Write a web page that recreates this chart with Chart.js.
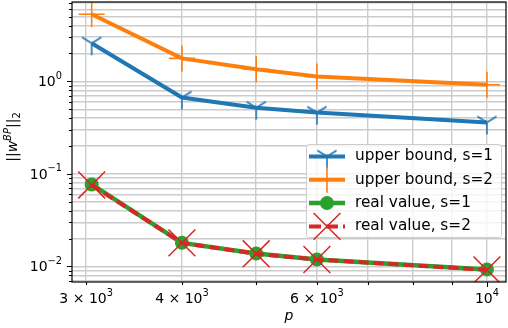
<!DOCTYPE html>
<html>
<head>
<meta charset="utf-8">
<script src="https://cdn.jsdelivr.net/npm/chart.js@4.4.1/dist/chart.umd.min.js"></script>
<style>
  html, body { margin: 0; padding: 0; background: #fff; }
  #wrap { width: 508px; height: 328px; }
</style>
</head>
<body>
<div id="wrap"><canvas id="chart"></canvas></div>
<script>
// Values
const pValues = [3050, 4000, 5000, 6000, 10000];
const upperS1 = [2.58, 0.67, 0.52, 0.46, 0.36];
const upperS2 = [5.3, 1.77, 1.35, 1.13, 0.92];
const realS1 = [0.077, 0.018, 0.0138, 0.0119, 0.0093];
const realS2 = [0.076, 0.018, 0.0137, 0.0119, 0.0092];

// Tick positions and labels ('^' starts the exponent)
const xTickValues = [3000, 4000, 5000, 6000, 7000, 8000, 9000, 10000];
const xTickLabels = { 3000: '3 × 10^3', 4000: '4 × 10^3', 6000: '6 × 10^3', 10000: '10^4' };
const yTickValues = [0.007, 0.008, 0.009, 0.01, 0.02, 0.03, 0.04, 0.05, 0.06, 0.07, 0.08, 0.09,
                     0.1, 0.2, 0.3, 0.4, 0.5, 0.6, 0.7, 0.8, 0.9, 1, 2, 3, 4, 5, 6, 7];
const yTickLabels = { 0.01: '10^−2', 0.1: '10^−1', 1: '10^0' };

const FONT = "'DejaVu Sans', sans-serif";
const BLUE = '#1f77b4', ORANGE = '#ff7f0e', GREEN = '#2ca02c', RED = '#d62728';

// tri_down marker (matplotlib '1') as an image point style
const triDown = (() => {
    const c = document.createElement('canvas');
    c.width = 28; c.height = 28;
    const g = c.getContext('2d');
    const cx = 14, cy = 14, s = 12;
    g.strokeStyle = BLUE;
    g.lineWidth = 1.6;
    g.beginPath();
    g.moveTo(cx, cy); g.lineTo(cx, cy + s);
    g.moveTo(cx, cy); g.lineTo(cx - 0.8 * s, cy - 0.5 * s);
    g.moveTo(cx, cy); g.lineTo(cx + 0.8 * s, cy - 0.5 * s);
    g.stroke();
    return c;
})();

const toPoints = ys => pValues.map((p, i) => ({ x: p, y: ys[i] }));
const isDecade = v => Math.abs(Math.log10(v) - Math.round(Math.log10(v))) < 1e-9;

// draw "base^exp" with a raised, smaller exponent; align = 'right' | 'center'
function drawPowerLabel(ctx, label, x, y, align) {
    const [base, exp] = label.split('^');
    ctx.font = '14px ' + FONT;
    const wb = ctx.measureText(base).width;
    ctx.font = '9.8px ' + FONT;
    const we = ctx.measureText(exp).width;
    const w = wb + we;
    let x0 = align === 'right' ? x - w : x - w / 2;
    ctx.textAlign = 'left';
    ctx.textBaseline = 'alphabetic';
    ctx.font = '14px ' + FONT;
    ctx.fillText(base, x0, y);
    ctx.font = '9.8px ' + FONT;
    ctx.fillText(exp, x0 + wb, y - 7.5);
}

// frame, tick marks, tick labels, axis titles and legend, matplotlib style
const decorations = {
    id: 'decorations',
    afterDraw(chart) {
        const ctx = chart.ctx;
        const a = chart.chartArea;
        const xs = chart.scales.x, ys = chart.scales.y;
        ctx.save();

        // tick marks
        ctx.strokeStyle = '#000';
        ctx.lineWidth = 1.1;
        ctx.beginPath();
        yTickValues.forEach(v => {
            const py = Math.round(ys.getPixelForValue(v)) + 0.5;
            const len = isDecade(v) ? 5 : 3;
            ctx.moveTo(a.left - len, py); ctx.lineTo(a.left, py);
        });
        xTickValues.forEach(v => {
            const px = Math.round(xs.getPixelForValue(v)) + 0.5;
            const len = isDecade(v) ? 5 : 3;
            ctx.moveTo(px, a.bottom); ctx.lineTo(px, a.bottom + len);
        });
        ctx.stroke();

        // spines
        ctx.lineWidth = 1.2;
        ctx.strokeRect(a.left, a.top, a.right - a.left, a.bottom - a.top);

        // tick labels
        ctx.fillStyle = '#000';
        yTickValues.forEach(v => {
            if (yTickLabels[v]) drawPowerLabel(ctx, yTickLabels[v], a.left - 10, ys.getPixelForValue(v) + 5, 'right');
        });
        xTickValues.forEach(v => {
            if (xTickLabels[v]) drawPowerLabel(ctx, xTickLabels[v], xs.getPixelForValue(v), a.bottom + 21, 'center');
        });

        // x title
        ctx.font = 'italic 14px ' + FONT;
        ctx.textAlign = 'center';
        ctx.textBaseline = 'alphabetic';
        ctx.fillText('p', (a.left + a.right) / 2, 320);

        // y title ||w^BP||_2
        ctx.translate(17, 137);
        ctx.rotate(-Math.PI / 2);
        ctx.textAlign = 'left';
        const parts = [
            { t: '||', f: '14px ' + FONT, dy: 0 },
            { t: 'w', f: 'italic 14px ' + FONT, dy: 0 },
            { t: 'BP', f: 'italic 10px ' + FONT, dy: -6 },
            { t: '||', f: '14px ' + FONT, dy: 0 },
            { t: '2', f: '10px ' + FONT, dy: 3 }
        ];
        let total = 0;
        parts.forEach(p => { ctx.font = p.f; p.w = ctx.measureText(p.t).width; total += p.w; });
        let cx = -total / 2;
        parts.forEach(p => { ctx.font = p.f; ctx.fillText(p.t, cx, p.dy); cx += p.w; });
        ctx.setTransform(1, 0, 0, 1, 0, 0);

        // legend
        const lx = 306, ly = 144, lw = 195, lh = 93;
        ctx.beginPath();
        ctx.roundRect(lx + 0.5, ly + 0.5, lw, lh, 3);
        ctx.fillStyle = 'rgba(255,255,255,0.8)';
        ctx.fill();
        ctx.strokeStyle = '#cccccc';
        ctx.lineWidth = 1;
        ctx.stroke();

        chart.data.datasets.forEach((ds, i) => {
            const ry = 156.5 + i * 23.3;
            ctx.save();
            ctx.strokeStyle = ds.borderColor;
            ctx.lineWidth = ds.borderWidth;
            ctx.setLineDash(ds.borderDash ? [12, 5] : []);
            ctx.beginPath();
            ctx.moveTo(309, ry); ctx.lineTo(345, ry);
            ctx.stroke();
            ctx.restore();

            const mx = 327;
            ctx.save();
            ctx.strokeStyle = ds.borderColor;
            ctx.fillStyle = ds.borderColor;
            ctx.lineWidth = ds.pointBorderWidth || 1.5;
            if (ds.pointStyle === triDown) {
                ctx.drawImage(triDown, mx - 14, ry - 14);
            } else if (ds.pointStyle === 'cross') {
                const r = ds.pointRadius;
                ctx.beginPath();
                ctx.moveTo(mx - r, ry); ctx.lineTo(mx + r, ry);
                ctx.moveTo(mx, ry - r); ctx.lineTo(mx, ry + r);
                ctx.stroke();
            } else if (ds.pointStyle === 'circle') {
                ctx.beginPath();
                ctx.arc(mx, ry, ds.pointRadius, 0, Math.PI * 2);
                ctx.fill();
            } else if (ds.pointStyle === 'crossRot') {
                const r = ds.pointRadius * Math.SQRT1_2;
                ctx.beginPath();
                ctx.moveTo(mx - r, ry - r); ctx.lineTo(mx + r, ry + r);
                ctx.moveTo(mx - r, ry + r); ctx.lineTo(mx + r, ry - r);
                ctx.stroke();
            }
            ctx.restore();

            ctx.fillStyle = '#000';
            ctx.font = '15.3px ' + FONT;
            ctx.textAlign = 'left';
            ctx.textBaseline = 'middle';
            ctx.fillText(ds.label, 355, ry);
        });
        ctx.restore();
    }
};

const gridStyle = { color: '#cccccc', lineWidth: 1.4, drawTicks: false };

const chart = new Chart(document.getElementById('chart'), {
    type: 'line',
    data: {
        datasets: [
            {
                label: 'upper bound, s=1',
                data: toPoints(upperS1),
                borderColor: BLUE,
                backgroundColor: BLUE,
                borderWidth: 4,
                pointStyle: triDown,
                pointRadius: 12,
                order: 3
            },
            {
                label: 'upper bound, s=2',
                data: toPoints(upperS2),
                borderColor: ORANGE,
                backgroundColor: ORANGE,
                borderWidth: 4,
                pointStyle: 'cross',
                pointRadius: 13,
                pointBorderWidth: 1.6,
                order: 2
            },
            {
                label: 'real value, s=1',
                data: toPoints(realS1),
                borderColor: GREEN,
                backgroundColor: GREEN,
                borderWidth: 4.5,
                pointStyle: 'circle',
                pointRadius: 7,
                pointBorderWidth: 0,
                order: 1
            },
            {
                label: 'real value, s=2',
                data: toPoints(realS2),
                borderColor: RED,
                backgroundColor: RED,
                borderWidth: 4,
                borderDash: [10, 5],
                pointStyle: 'crossRot',
                pointRadius: 19,
                pointBorderWidth: 1.5,
                order: 0
            }
        ]
    },
    options: {
        responsive: true,
        maintainAspectRatio: false,
        animation: false,
        events: [],
        layout: { autoPadding: false, padding: { left: 0, right: 2, top: 2, bottom: 0 } },
        elements: { line: { tension: 0 } },
        plugins: {
            legend: { display: false },
            tooltip: { enabled: false }
        },
        scales: {
            x: {
                type: 'logarithmic',
                min: 2875,
                max: 10590,
                afterBuildTicks: s => { s.ticks = xTickValues.map(v => ({ value: v })); },
                afterFit: s => { s.height = 46; s.paddingLeft = 0; s.paddingRight = 0; },
                grid: gridStyle,
                border: { display: false },
                ticks: { display: false }
            },
            y: {
                type: 'logarithmic',
                min: 0.0068,
                max: 7.2,
                afterBuildTicks: s => { s.ticks = yTickValues.map(v => ({ value: v })); },
                afterFit: s => { s.width = 72; s.paddingTop = 0; s.paddingBottom = 0; },
                grid: gridStyle,
                border: { display: false },
                ticks: { display: false }
            }
        }
    },
    plugins: [decorations]
});
</script>
</body>
</html>
